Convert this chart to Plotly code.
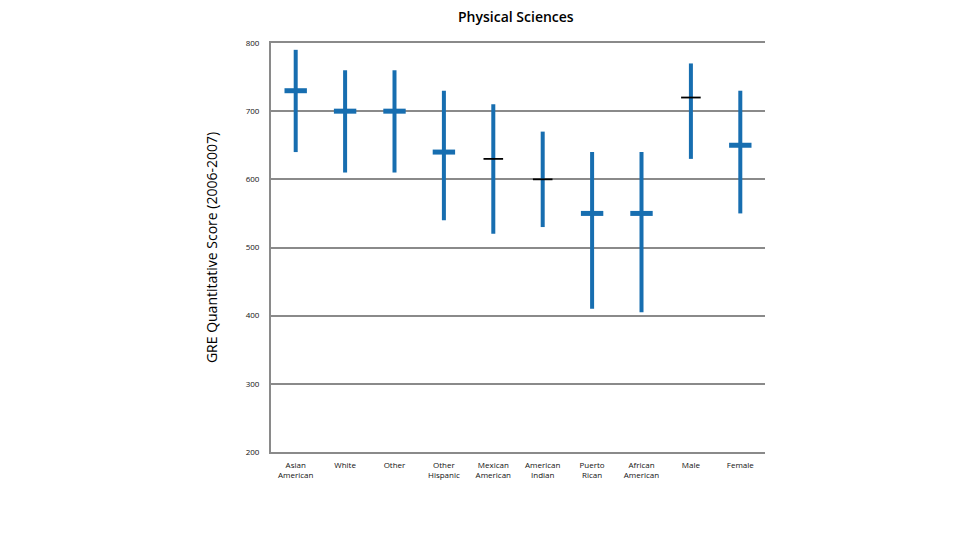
import plotly.graph_objects as go

categories = ["Asian<br>American", "White", "Other", "Other<br>Hispanic", "Mexican<br>American",
              "American<br>Indian", "Puerto<br>Rican", "African<br>American", "Male", "Female"]
high = [790, 760, 760, 730, 710, 670, 640, 640, 770, 730]
low = [640, 610, 610, 540, 520, 530, 410, 405, 630, 550]
mean = [730, 700, 700, 640, 630, 600, 550, 550, 720, 650]
black_mean = [False, False, False, False, True, True, False, False, True, False]

blue = "#176EB0"
grid = "#8a8a8a"
fig = go.Figure()

# vertical range lines via error bars
fig.add_trace(go.Scatter(
    x=categories, y=low, mode="markers", marker=dict(size=0.1, color="rgba(0,0,0,0)"),
    error_y=dict(type="data", symmetric=False,
                 array=[h - l for h, l in zip(high, low)],
                 arrayminus=[0] * len(low), color=blue, thickness=4, width=0),
    showlegend=False, hoverinfo="skip"))

bx = [c for c, b in zip(categories, black_mean) if not b]
by = [m for m, b in zip(mean, black_mean) if not b]
kx = [c for c, b in zip(categories, black_mean) if b]
ky = [m for m, b in zip(mean, black_mean) if b]

fig.add_trace(go.Scatter(x=bx, y=by, mode="markers",
                         marker=dict(symbol="line-ew", size=16, line=dict(width=5, color=blue)),
                         showlegend=False))
fig.add_trace(go.Scatter(x=kx, y=ky, mode="markers",
                         marker=dict(symbol="line-ew", size=14, line=dict(width=1.8, color="black")),
                         showlegend=False))

fig.update_layout(
    width=960, height=540,
    margin=dict(l=263, r=203, t=35, b=96),
    paper_bgcolor="white", plot_bgcolor="white",
    font=dict(family="Open Sans, sans-serif", color="#111"),
    title=dict(text="Physical Sciences", x=0.529, xanchor="center", y=0.984, yanchor="middle",
               font=dict(size=14, family="Open Sans, sans-serif", weight=600, color="black")),
    xaxis=dict(type="category", showgrid=False, showline=True, mirror=True, linecolor=grid,
               linewidth=2, ticks="", tickfont=dict(size=8, color="#111"), ticklabelstandoff=4,
               range=[-0.5, 9.5]),
    yaxis=dict(range=[200, 800], dtick=100, showgrid=True, gridcolor=grid, gridwidth=2,
               showline=True, linecolor=grid, linewidth=2, zeroline=False, ticks="",
               tickfont=dict(size=8, color="#111"), ticklabelstandoff=8,
               title=dict(text="GRE Quantitative Score (2006-2007)", standoff=25,
                          font=dict(size=14, color="black"))),
)

fig.write_html("out.html")
